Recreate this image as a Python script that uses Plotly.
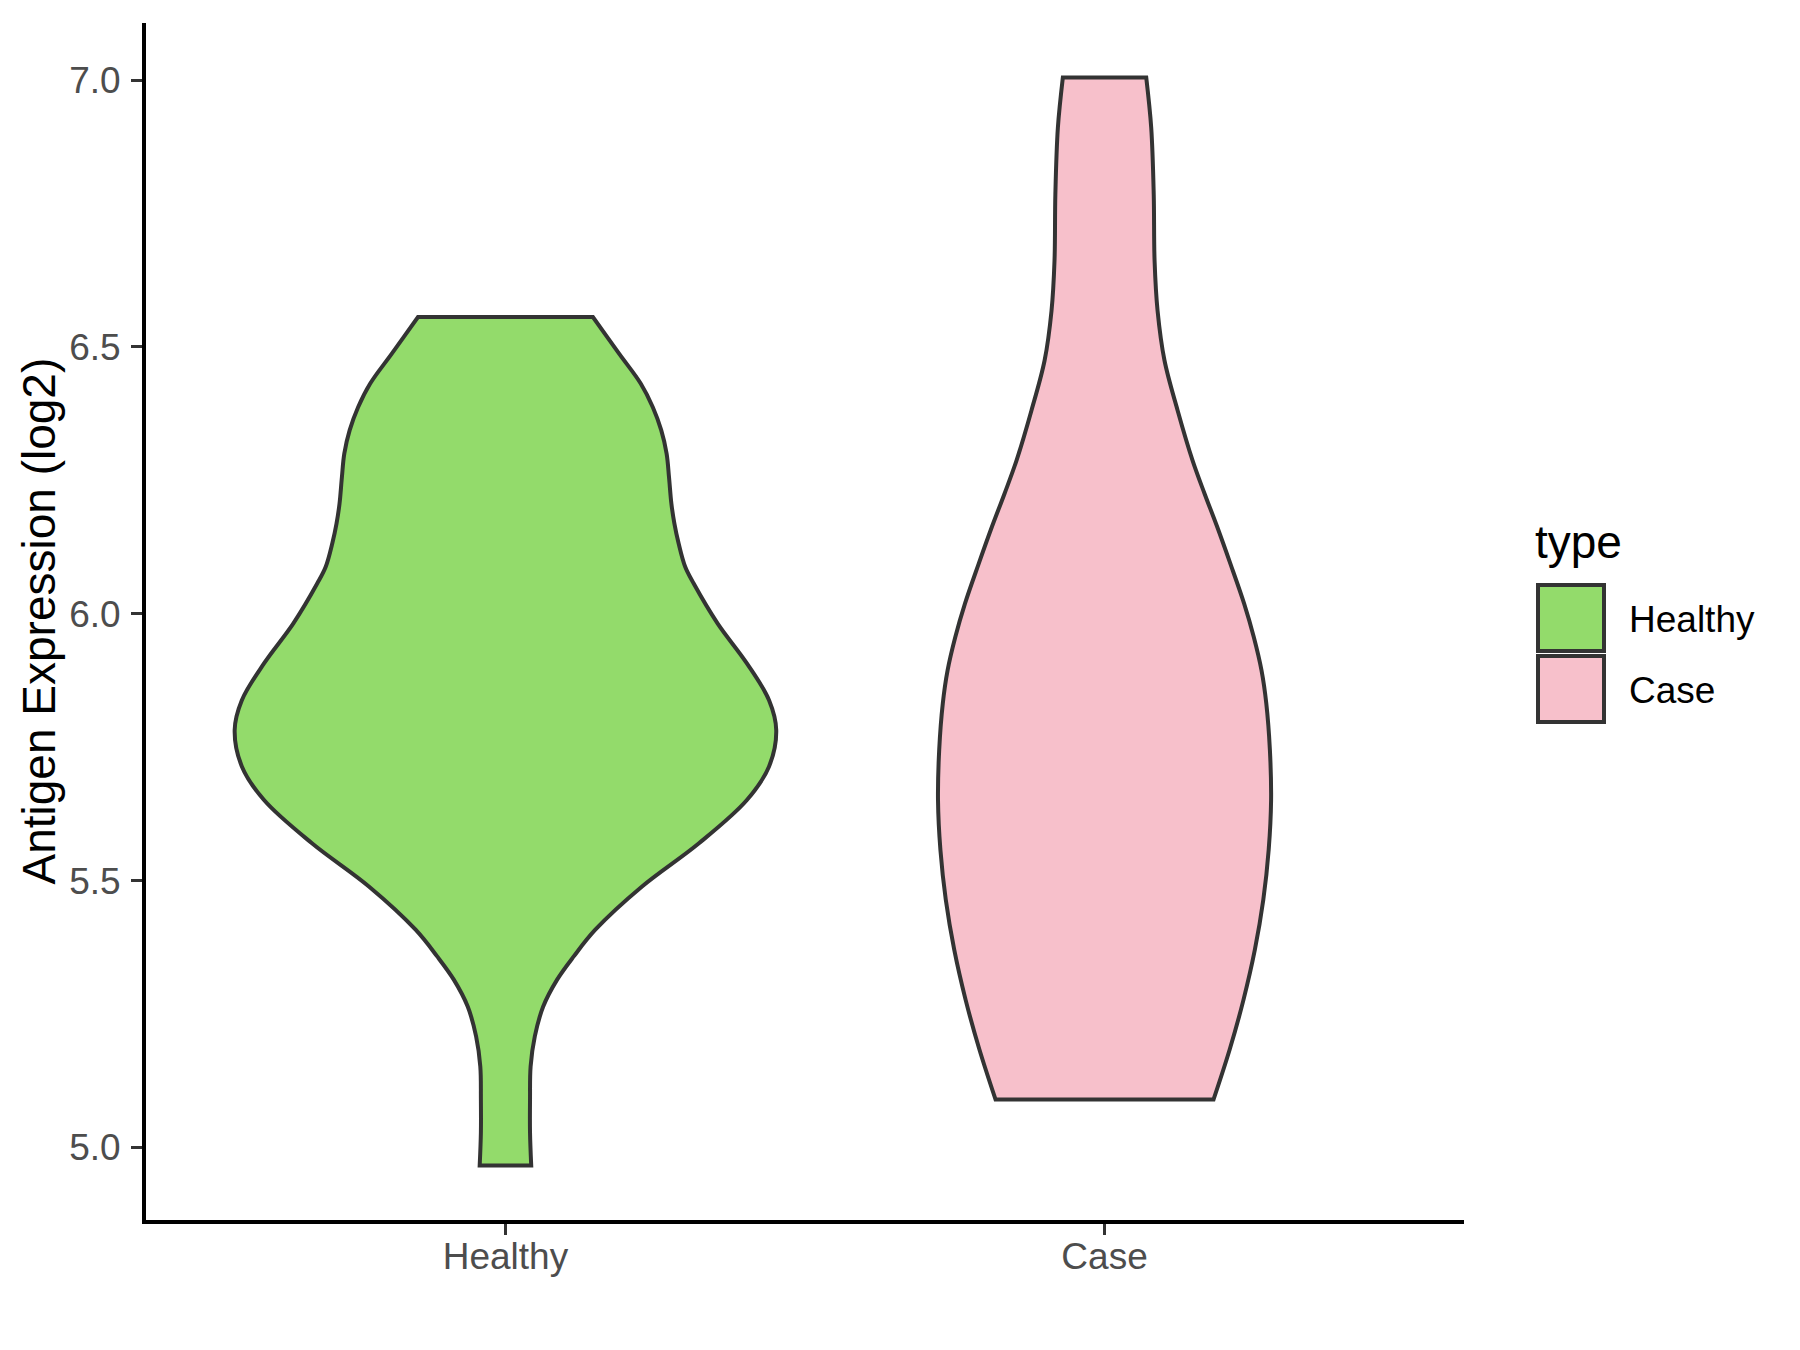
"""Violin plot of antigen expression by sample type."""

import plotly.graph_objects as go


CATEGORIES = ["Healthy", "Case"]
FILL_COLORS = ["#93DB6B", "#F7C0CB"]
OUTLINE = "#333333"
FONT = "Liberation Sans, Arial, sans-serif"

# violin outlines: expression level and half width
healthy_y = [4.966, 5.028, 5.090, 5.152, 5.208, 5.264, 5.314, 5.358, 5.408,
             5.489, 5.570, 5.651, 5.714, 5.782, 5.838, 5.907, 5.982, 6.057,
             6.088, 6.132, 6.169, 6.206, 6.256, 6.300, 6.344, 6.387, 6.431,
             6.487, 6.556]
healthy_hw = [0.043, 0.041, 0.041, 0.042, 0.049, 0.063, 0.086, 0.114, 0.150,
              0.228, 0.323, 0.403, 0.440, 0.452, 0.440, 0.403, 0.354, 0.314,
              0.300, 0.289, 0.282, 0.277, 0.273, 0.269, 0.260, 0.246, 0.226,
              0.190, 0.146]

case_y = [5.090, 5.184, 5.277, 5.371, 5.464, 5.558, 5.651, 5.745, 5.832, 5.894,
          5.957, 6.019, 6.094, 6.163, 6.225, 6.287, 6.381, 6.475, 6.568, 6.662,
          6.786, 6.911, 7.005]
case_hw = [0.182, 0.209, 0.232, 0.251, 0.265, 0.274, 0.278, 0.276, 0.270, 0.262,
           0.249, 0.233, 0.210, 0.188, 0.167, 0.147, 0.122, 0.100, 0.0885,
           0.0835, 0.0821, 0.0779, 0.0696]

Y_TICKS = [5.0, 5.5, 6.0, 6.5, 7.0]

# page body has an 8px margin, so the figure is a bit smaller than the window
BODY = 8
W, H = 1800 - BODY, 1350 - BODY
PLOT_L, PLOT_R, PLOT_T, PLOT_B = 146, 1464, 23, 1220  # page pixels


def px_x(x):
    return (x - PLOT_L) / (PLOT_R - PLOT_L)


def px_y(y):
    return (PLOT_B - y) / (PLOT_B - PLOT_T)


fig = go.Figure()

profiles = [(healthy_y, healthy_hw), (case_y, case_hw)]
for i, (name, (ys, hws)) in enumerate(zip(CATEGORIES, profiles)):
    pos = i + 1
    left = [pos - w for w in hws]
    right = [pos + w for w in reversed(hws)]
    ys_up = list(ys)
    ys_down = list(reversed(ys))
    # repeat the corner points so the spline keeps the flat ends square
    xs = [left[0]] + left + [left[-1]] + [right[0]] + right + [right[-1], left[0]]
    yy = [ys_up[0]] + ys_up + [ys_up[-1]] + [ys_down[0]] + ys_down + [ys_down[-1], ys_up[0]]
    fig.add_trace(go.Scatter(
        x=xs, y=yy,
        mode="lines",
        fill="toself",
        fillcolor=FILL_COLORS[i],
        line=dict(color=OUTLINE, width=4, shape="spline", smoothing=1.0,
                  simplify=False),
        name=name,
        hoveron="fills",
        showlegend=False,
    ))

# y range with ggplot-style 5% expansion
lo = min(healthy_y + case_y)
hi = max(healthy_y + case_y)
pad = (hi - lo) * 0.05

axis_common = dict(
    showline=True, linecolor="black", linewidth=4,
    ticks="outside", ticklen=11, tickwidth=3, tickcolor=OUTLINE,
    tickfont=dict(family=FONT, size=37, color="#4D4D4D"),
    showgrid=False, zeroline=False,
)

fig.update_xaxes(
    range=[0.4, 2.6], tickvals=[1, 2], ticktext=CATEGORIES,
    ticklabelstandoff=-10, **axis_common,
)
fig.update_yaxes(
    range=[lo - pad, hi + pad], tickvals=Y_TICKS,
    ticktext=[f"{v:.1f}" for v in Y_TICKS],
    ticklabelstandoff=3, **axis_common,
)

annotations = [dict(
    text="Antigen Expression (log2)", textangle=-90,
    xref="paper", yref="paper", x=px_x(38), y=0.5,
    xanchor="center", yanchor="middle", showarrow=False,
    font=dict(family=FONT, size=46, color="black"),
)]

# legend drawn by hand to get ggplot-sized keys
shapes = []
annotations.append(dict(
    text="type", xref="paper", yref="paper", x=px_x(1533), y=px_y(542),
    xanchor="left", yanchor="middle", showarrow=False,
    font=dict(family=FONT, size=46, color="black"),
))
key_tops = [585, 656]
for name, color, top in zip(CATEGORIES, FILL_COLORS, key_tops):
    shapes.append(dict(
        type="rect", xref="paper", yref="paper",
        x0=px_x(1538), x1=px_x(1604), y0=px_y(top), y1=px_y(top + 66),
        fillcolor=color, line=dict(color=OUTLINE, width=4),
    ))
    annotations.append(dict(
        text=name, xref="paper", yref="paper", x=px_x(1627), y=px_y(top + 34),
        xanchor="left", yanchor="middle", showarrow=False,
        font=dict(family=FONT, size=37, color="black"),
    ))

fig.update_layout(
    width=W, height=H,
    margin=dict(l=PLOT_L - BODY, r=W - (PLOT_R - BODY),
                t=PLOT_T - BODY, b=H - (PLOT_B - BODY)),
    plot_bgcolor="white", paper_bgcolor="white",
    showlegend=False,
    annotations=annotations,
    shapes=shapes,
)

fig.write_html("out.html")
